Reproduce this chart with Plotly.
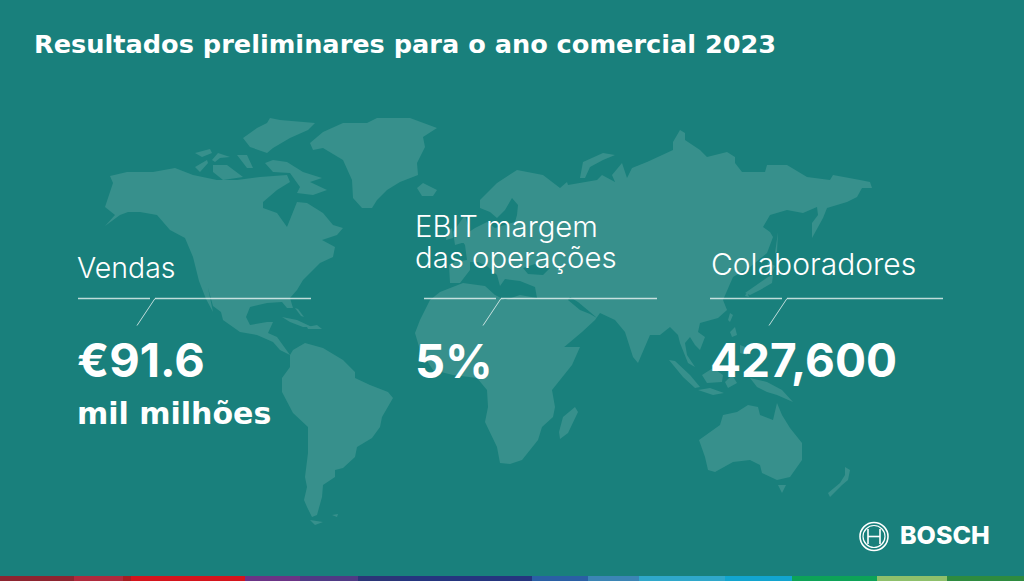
import plotly.graph_objects as go

BG = "#19807c"
LAND = "#37908c"
WHITE = "#ffffff"
LINE = "rgba(255,255,255,0.72)"

TITLE = "Resultados preliminares para o ano comercial 2023"
KPI_LABELS = ["Vendas", "EBIT margem", "das operações", "Colaboradores"]
KPI_VALUES = ["€91.6", "5%", "427,600"]
KPI_UNIT = "mil milhões"
BRAND = "BOSCH"

# map outlines in picture pixels (x, y)
north_america = [(110,176),(127,172),(153,172),(175,168),(193,175),(217,180),(237,180),(260,177),(287,175),(290,182),
    (277,190),(263,202),(263,208),(277,213),(287,227),(293,213),(297,202),(307,203),(323,213),(333,225),(343,228),
    (337,235),(322,240),(335,247),(333,257),(320,263),(303,280),(297,290),(290,298),(293,308),(287,308),(282,302),
    (267,303),(250,307),(246,317),(250,325),(267,322),(273,322),(268,333),(277,337),(287,350),(290,355),(280,350),
    (273,342),(257,335),(240,332),(223,320),(221,312),(213,306),(208,288),(213,312),(206,299),(199,281),(198,277),
    (193,257),(185,238),(170,230),(157,215),(140,212),(128,212),(120,215),(105,226),(115,215),(105,207),(110,193),(113,183)]
greenland = [(310,143),(323,132),(343,123),(367,123),(377,118),(410,118),(437,128),(423,137),(425,147),(417,163),
    (418,175),(400,182),(387,190),(377,200),(372,208),(362,208),(353,198),(352,180),(343,160),(323,148),(313,150)]
ellesmere = [(243,138),(257,128),(267,123),(270,118),(280,120),(315,123),(308,130),(290,138),(273,148),(267,153),(250,147)]
baffin = [(265,163),(273,160),(287,162),(303,172),(322,178),(310,182),(327,190),(313,195),(297,193),(300,187),(290,173),(273,172)]
victoria = [(213,165),(227,165),(243,177),(223,180),(213,172)]
banks = [(195,167),(207,160),(208,163),(200,172)]
melville = [(195,153),(210,149),(212,153),(202,157)]
arctic_a = [(212,160),(218,153),(230,157),(220,158),(215,162)]
arctic_b = [(237,155),(247,155),(253,168),(247,168)]
cuba = [(282,317),(297,320),(312,327),(303,327),(290,322)]
hispaniola = [(307,327),(317,325),(322,329),(308,329)]
bahamas = [(295,308),(298,309),(304,317),(301,316)]
south_america = [(290,355),(293,350),(305,343),(323,348),(343,360),(355,372),(355,378),(370,385),(388,392),(393,398),
    (382,417),(380,427),(372,438),(357,447),(355,457),(343,468),(335,470),(335,477),(323,485),(322,497),(317,515),
    (312,517),(307,507),(304,500),(307,487),(305,477),(308,453),(308,427),(293,413),(282,392),(282,378),(290,367)]
fuego = [(310,520),(323,522),(315,525)]
falklands = [(332,515),(338,514),(337,517)]
africa = [(420,320),(430,300),(440,292),(463,283),(485,286),(495,295),(505,300),(520,295),(537,298),(547,320),(563,347),
    (580,347),(572,365),(552,390),(555,407),(553,417),(542,427),(538,440),(522,460),(510,464),(500,463),(497,447),
    (485,422),(488,407),(487,390),(477,378),(453,375),(433,370),(420,350),(415,333)]
madagascar = [(575,407),(578,412),(568,433),(560,439),(559,432),(563,417)]
eurasia = [(480,200),(497,183),(517,170),(543,175),(560,188),(567,182),(568,185),(597,180),(602,175),(615,182),(612,175),
    (622,163),(627,178),(632,168),(647,162),(673,150),(673,142),(680,130),(685,133),(685,140),(700,150),(707,157),
    (727,152),(735,157),(735,163),(742,172),(765,172),(767,165),(787,165),(807,177),(830,180),(833,175),(860,180),
    (870,182),(872,188),(862,188),(857,197),(847,202),(827,208),(823,218),(812,238),(812,223),(818,215),(817,207),
    (803,213),(787,210),(770,215),(763,227),(770,232),(773,237),(767,253),(750,267),(733,277),(727,290),(723,300),
    (727,310),(718,318),(700,323),(698,332),(705,337),(700,350),(695,345),(690,337),(685,343),(687,355),(695,367),
    (688,363),(680,343),(678,335),(670,327),(660,335),(650,335),(638,363),(633,357),(625,332),(615,320),(600,313),
    (595,320),(582,332),(563,348),(543,313),(537,298),(535,287),(520,281),(505,279),(500,286),(497,275),(487,266),
    (478,262),(470,262),(470,270),(460,283),(450,283),(449,265),(455,262),(467,260),(465,245),(460,238),(475,228),
    (487,222),(495,228),(515,222),(517,215),(518,205),(512,198),(505,210),(497,218),(490,212),(480,208)]
uk = [(453,232),(465,215),(472,240),(455,245)]
ireland = [(447,232),(452,228),(453,238),(446,240)]
iceland = [(417,188),(423,183),(437,190),(433,196),(422,196)]
novaya_zemlya = [(580,178),(583,162),(603,153),(615,155),(603,160),(590,167),(585,178)]
sakhalin = [(778,232),(777,252),(775,253),(777,240)]
honshu = [(773,275),(772,283),(760,290),(750,295),(745,293),(757,285),(768,277)]
hokkaido = [(768,262),(775,266),(772,272),(766,270)]
kyushu = [(747,292),(749,297),(745,296)]
taiwan = [(730,313),(733,315),(730,322),(728,320)]
luzon = [(730,332),(735,327),(737,335),(732,337)]
mindanao = [(740,345),(748,348),(747,355),(740,353)]
sumatra = [(669,360),(675,361),(690,375),(700,387),(695,388),(683,377)]
java = [(698,390),(710,388),(724,393),(713,395)]
borneo = [(702,375),(713,368),(723,375),(722,382),(707,383)]
sulawesi = [(725,382),(732,375),(737,383),(728,388)]
new_guinea = [(750,378),(767,382),(782,390),(793,402),(777,395),(767,392),(757,387)]
australia = [(699,440),(720,425),(723,415),(737,412),(748,405),(758,407),(760,415),(773,420),(777,403),(782,415),
    (790,428),(802,443),(802,460),(790,477),(777,480),(762,473),(760,465),(750,460),(733,462),(715,472),(708,470),(705,457)]
tasmania = [(778,485),(786,485),(782,493)]
new_zealand = [(845,467),(850,470),(848,480),(842,485),(830,497),(828,493),(840,483),(845,475)]
land_parts = [north_america, greenland, ellesmere, baffin, victoria, banks, melville, arctic_a, arctic_b, cuba,
    hispaniola, bahamas, south_america, fuego, falklands, africa, madagascar, eurasia, uk, ireland, iceland,
    novaya_zemlya, sakhalin, honshu, hokkaido, kyushu, taiwan, luzon, mindanao, sumatra, java, borneo, sulawesi,
    new_guinea, australia, tasmania, new_zealand]

black_sea = [(523,268),(535,264),(550,268),(543,275),(528,274)]
persian_gulf = [(570,297),(578,302),(590,312),(597,318),(590,314),(580,310),(568,300)]
water_parts = [black_sea, persian_gulf]

# colour strip along the bottom edge
strip_stops = [0, 74, 123, 131, 245, 300, 358, 400, 532, 588, 639, 725, 792, 877, 947, 1024]
strip_colors = ["#8e2430", "#b02a3d", "#a81d22", "#d5141d", "#6b3486", "#4f3a85", "#2b3578", "#25357f",
                "#2a5fa5", "#3b85b5", "#2fa8cb", "#12a5cf", "#0da358", "#8fc06b", "#2e8b3f"]


def polygons(parts, color):
    xs, ys = [], []
    for part in parts:
        xs += [p[0] for p in part] + [part[0][0], None]
        ys += [p[1] for p in part] + [part[0][1], None]
    return go.Scatter(x=xs, y=ys, mode="lines", fill="toself", fillcolor=color,
                      line=dict(width=0, color=color), hoverinfo="skip", showlegend=False)


fig = go.Figure([polygons(land_parts, LAND), polygons(water_parts, BG)])

shapes = []
for i, color in enumerate(strip_colors):
    shapes.append(dict(type="rect", x0=strip_stops[i], x1=strip_stops[i + 1], y0=576, y1=581,
                       fillcolor=color, line_width=0))

# callout rules above each figure
for x0 in [78, 424, 710]:
    shapes.append(dict(type="line", x0=x0, x1=x0 + 72, y0=298.5, y1=298.5, line=dict(color=LINE, width=1.5)))
    shapes.append(dict(type="line", x0=x0 + 77, x1=x0 + 233, y0=298.5, y1=298.5, line=dict(color=LINE, width=1.5)))
    shapes.append(dict(type="line", x0=x0 + 77, x1=x0 + 59, y0=298.5, y1=325.5, line=dict(color=LINE, width=1)))

# logo
for r, w in [(14, 1.6), (11, 1.2)]:
    shapes.append(dict(type="circle", x0=874 - r, x1=874 + r, y0=536.5 - r, y1=536.5 + r,
                       line=dict(color=WHITE, width=w)))
for x0, x1, y0, y1 in [(868, 868, 529, 544), (880, 880, 529, 544), (868, 880, 536.5, 536.5)]:
    shapes.append(dict(type="line", x0=x0, x1=x1, y0=y0, y1=y1, line=dict(color=WHITE, width=1.6)))


def label(text, x, y, size, weight, family="Inter"):
    return dict(text=text, x=x, y=y, xref="x", yref="y", xanchor="left", yanchor="middle", align="left",
                showarrow=False, borderpad=0,
                font=dict(family=family, size=size, color=WHITE, weight=weight))


annotations = [
    label(TITLE, 33, 44, 25.6, 700, "DejaVu Sans"),
    label(KPI_LABELS[0], 76, 267, 28.5, 300),
    label(KPI_LABELS[1], 414, 226, 29.3, 300),
    label(KPI_LABELS[2], 414, 257, 29.3, 300),
    label(KPI_LABELS[3], 710, 264, 30, 300),
    label(KPI_VALUES[0], 76, 359, 47, 700),
    label(KPI_VALUES[1], 414, 360, 47, 700),
    label(KPI_VALUES[2], 709, 360, 46, 700),
    label(KPI_UNIT, 76, 413, 30, 700, "DejaVu Sans"),
    label(BRAND, 899, 535, 25, 800),
]

fig.update_layout(
    width=1024, height=581, margin=dict(l=0, r=0, t=0, b=0),
    paper_bgcolor=BG, plot_bgcolor=BG, showlegend=False,
    xaxis=dict(range=[0, 1024], visible=False, fixedrange=True),
    yaxis=dict(range=[581, 0], visible=False, fixedrange=True),
    shapes=shapes, annotations=annotations,
)

fig.write_html("out.html", config=dict(displayModeBar=False), post_script="document.body.style.margin='0';")
